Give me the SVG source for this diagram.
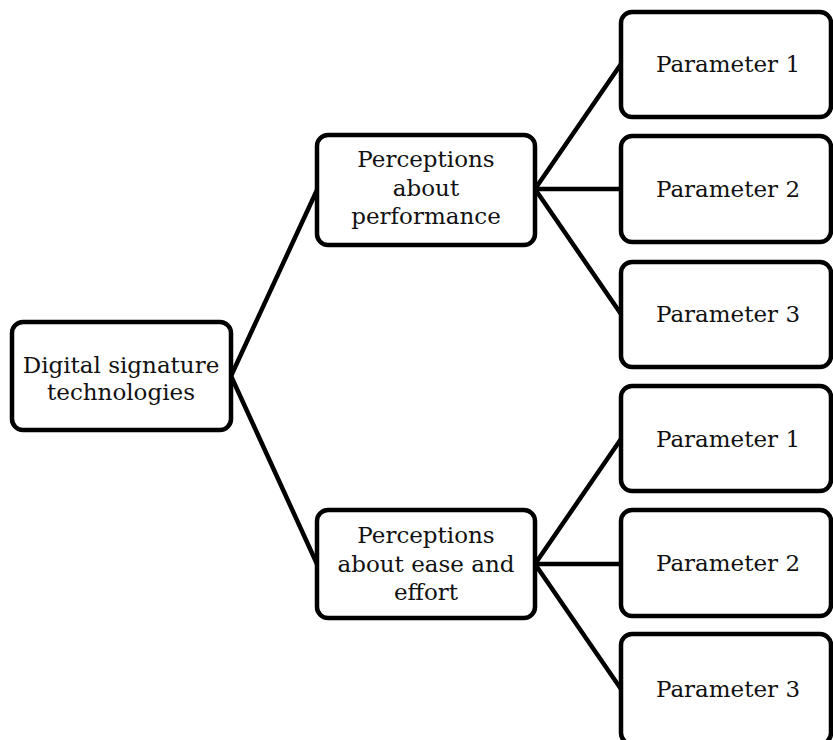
<svg xmlns="http://www.w3.org/2000/svg" width="833" height="740" viewBox="0 0 833 740">
<style>
.box{fill:#fff;stroke:#000;stroke-width:4.5}
.t{font-family:"DejaVu Serif","Liberation Serif",serif;font-size:23px;fill:#111;text-anchor:middle}
.c{stroke:#000;stroke-width:4.5;fill:none;stroke-linecap:round}
</style>
<rect width="833" height="740" fill="#fff"/>
<g id="connectors">
<line class="c" x1="231" y1="376" x2="317" y2="190"/>
<line class="c" x1="231" y1="376" x2="317" y2="564"/>
<line class="c" x1="535" y1="189" x2="621" y2="64"/>
<line class="c" x1="535" y1="189" x2="621" y2="189"/>
<line class="c" x1="535" y1="189" x2="621" y2="314"/>
<line class="c" x1="535" y1="564" x2="621" y2="439"/>
<line class="c" x1="535" y1="564" x2="621" y2="564"/>
<line class="c" x1="535" y1="564" x2="621" y2="689"/>
</g>
<g id="root">
<rect class="box" x="12" y="322" width="219" height="108" rx="11"/>
<text class="t" x="121" y="373">Digital signature</text>
<text class="t" x="121" y="400">technologies</text>
</g>
<g id="perf">
<rect class="box" x="317" y="135" width="218" height="110" rx="11"/>
<text class="t" x="426" y="167">Perceptions</text>
<text class="t" x="426" y="196">about</text>
<text class="t" x="426" y="224">performance</text>
</g>
<g id="ease">
<rect class="box" x="317" y="510" width="218" height="108" rx="11"/>
<text class="t" x="426" y="543">Perceptions</text>
<text class="t" x="426" y="572">about ease and</text>
<text class="t" x="426" y="600">effort</text>
</g>
<g id="p1a">
<rect class="box" x="621" y="12" width="210" height="105" rx="11"/>
<text class="t" x="728" y="72">Parameter 1</text>
</g>
<g id="p2a">
<rect class="box" x="621" y="136" width="210" height="106" rx="11"/>
<text class="t" x="728" y="197">Parameter 2</text>
</g>
<g id="p3a">
<rect class="box" x="621" y="262" width="210" height="105" rx="11"/>
<text class="t" x="728" y="322">Parameter 3</text>
</g>
<g id="p1b">
<rect class="box" x="621" y="386" width="210" height="105" rx="11"/>
<text class="t" x="728" y="447">Parameter 1</text>
</g>
<g id="p2b">
<rect class="box" x="621" y="510" width="210" height="106" rx="11"/>
<text class="t" x="728" y="571">Parameter 2</text>
</g>
<g id="p3b">
<rect class="box" x="621" y="634" width="210" height="110" rx="11"/>
<text class="t" x="728" y="697">Parameter 3</text>
</g>
</svg>
